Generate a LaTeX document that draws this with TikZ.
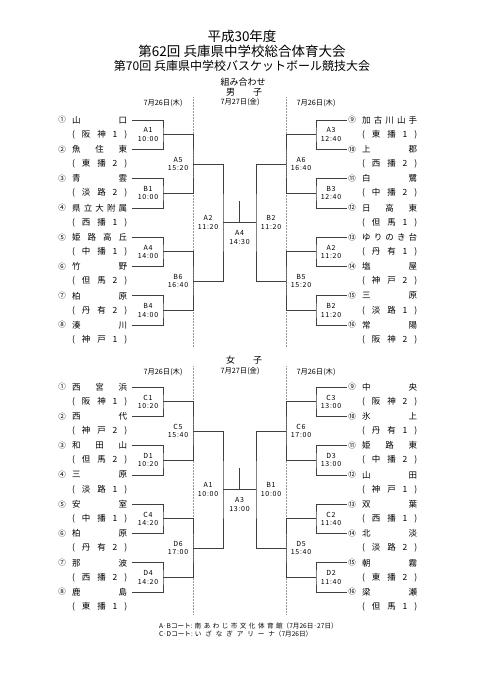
\documentclass[tikz,border=0pt]{standalone}
\usepackage{fontspec}
\setmainfont{Noto Sans CJK JP}
\newfontfamily\gamefont[LetterSpace=10]{Noto Sans CJK JP}

\tikzset{
  line/.style={draw=black!75, line width=0.75pt},
  guide/.style={draw=black!40, line width=0.75pt, dash pattern=on 0.75pt off 0.75pt},
  nrnode/.style={inner sep=1pt, font=\fontsize{7.5}{8}\selectfont},
  teamnode/.style={anchor=west, inner xsep=5pt, inner ysep=1pt, font=\fontsize{8.5}{10}\selectfont},
  gamenode/.style={align=center, inner sep=0pt, font=\gamefont\fontsize{7}{8.4}\selectfont},
  datenode/.style={inner sep=0pt, font=\fontsize{7.3}{8}\selectfont},
  titlenode/.style={inner sep=0pt, font=\fontsize{13.5}{15}\selectfont},
  headnode/.style={inner sep=0pt, font=\fontsize{9}{10}\selectfont},
  footnode/.style={anchor=west, inner sep=0pt, font=\fontsize{6.6}{7.5}\selectfont}
}

% #1 prefix, #2 y of first team, #3 left teams, #4 right teams
\newcommand\drawhalf[4]{%
  \foreach \nr/\nm/\cl [count=\i] in {#3} {
    \node[nrnode] (#1n\i) at (62,{#2+29.3*(\i-1)}) {\nr};
    \node[teamnode] (#1t\i) at (67,{#2+29.3*(\i-1)}) {\makebox[55pt][s]{\nm}};
    \node[teamnode] (#1c\i) at (67,{#2+29.3*(\i-0.5)}) {\makebox[55pt][s]{(\ \cl\ )}};
  }
  \foreach \nr/\nm/\cl [count=\i from 9] in {#4} {
    \node[nrnode] (#1n\i) at (352,{#2+29.3*(\i-9)}) {\nr};
    \node[teamnode] (#1t\i) at (357,{#2+29.3*(\i-9)}) {\makebox[55pt][s]{\nm}};
    \node[teamnode] (#1c\i) at (357,{#2+29.3*(\i-8.5)}) {\makebox[55pt][s]{(\ \cl\ )}};
  }
  \foreach \k in {1,...,4} {
    \pgfmathtruncatemacro\u{2*\k-1}
    \pgfmathtruncatemacro\v{2*\k}
    \pgfmathtruncatemacro\uu{2*\k+7}
    \pgfmathtruncatemacro\vv{2*\k+8}
    \coordinate (#1a\k) at (163,{#2+29.3*(2*\k-1.5)});
    \coordinate (#1e\k) at (316,{#2+29.3*(2*\k-1.5)});
    \draw[line] (#1t\u.east) -| (#1a\k) |- (#1t\v.east);
    \draw[line] (#1n\uu.west) -| (#1e\k) |- (#1n\vv.west);
  }
  \foreach \k in {1,2} {
    \pgfmathtruncatemacro\u{2*\k-1}
    \pgfmathtruncatemacro\v{2*\k}
    \coordinate (#1b\k) at (193,{#2+29.3*(4*\k-2.5)});
    \coordinate (#1d\k) at (286,{#2+29.3*(4*\k-2.5)});
    \draw[line] (#1a\u) -| (#1b\k) |- (#1a\v);
    \draw[line] (#1e\u) -| (#1d\k) |- (#1e\v);
  }
  \coordinate (#1sl) at (223,{#2+29.3*3.5});
  \coordinate (#1sr) at (256,{#2+29.3*3.5});
  \coordinate (#1f) at (239.5,{#2+29.3*3.5});
  \coordinate (#1ft) at (239.5,{#2+29.3*3.5-22});
  \draw[line] (#1b1) -| (#1sl) |- (#1b2);
  \draw[line] (#1d1) -| (#1sr) |- (#1d2);
  \draw[line] (#1sl) -- (#1sr);
  \draw[line] (#1f) -- (#1ft);
}

\begin{document}
\begin{tikzpicture}[x=1pt,y=-1pt]
  \path[use as bounding box, fill=white] (0,0) rectangle (481,680);

  \node[titlenode] (title1) at (242,36) {平成30年度};
  \node[titlenode] (title2) at (242,51) {第62回 兵庫県中学校総合体育大会};
  \node[titlenode, font=\fontsize{12}{15}\selectfont] (title3) at (242,66) {第70回 兵庫県中学校バスケットボール競技大会};
  \node[headnode] (kumi) at (243,82) {組み合わせ};
  \node[headnode] (boys) at (244,92) {\makebox[36pt][s]{男 子}};
  \node[headnode] (girls) at (244,360) {\makebox[36pt][s]{女 子}};

  \foreach \dy [count=\s] in {0,269} {
    \node[datenode] (day\s a) at (163,103+\dy) {7月26日(木)};
    \node[datenode] (day\s b) at (240,102+\dy) {7月27日(金)};
    \node[datenode] (day\s c) at (316,103+\dy) {7月26日(木)};
  }

  % dotted day borders
  \draw[guide] (193,97) -- (193,347);
  \draw[guide] (286,97) -- (286,347);
  \draw[guide] (193,366) -- (193,615);
  \draw[guide] (286,366) -- (286,615);

  % boys
  \drawhalf{m}{120}{①/山 口/阪 神 1,
    ②/魚 住 東/東 播 2,
    ③/青 雲/淡 路 2,
    ④/県 立 大 附 属/西 播 1,
    ⑤/姫 路 高 丘/中 播 1,
    ⑥/竹 野/但 馬 2,
    ⑦/柏 原/丹 有 2,
    ⑧/湊 川/神 戸 1}{⑨/加 古 川 山 手/東 播 1,
    ⑩/上 郡/西 播 2,
    ⑪/白 鷺/中 播 2,
    ⑫/日 高 東/但 馬 1,
    ⑬/ゆ り の き 台/丹 有 1,
    ⑭/塩 屋/神 戸 2,
    ⑮/三 原/淡 路 1,
    ⑯/常 陽/阪 神 2}
  \foreach \p/\g/\t in {a1/A1/10:00, a2/B1/10:00, a3/A4/14:00, a4/B4/14:00,
      b1/A5/15:20, b2/B6/16:40, sl/A2/11:20}
    \node[gamenode] (gm\p) at ([xshift=-15pt]m\p) {\g\\\t};
  \foreach \p/\g/\t in {e1/A3/12:40, e2/B3/12:40, e3/A2/11:20, e4/B2/11:20,
      d1/A6/16:40, d2/B5/15:20, sr/B2/11:20}
    \node[gamenode] (gm\p) at ([xshift=15pt]m\p) {\g\\\t};
  \node[gamenode] (gmf) at ([yshift=-15pt]mf) {A4\\14:30};

  % girls
  \drawhalf{w}{387}{①/西 宮 浜/阪 神 1,
    ②/西 代/神 戸 2,
    ③/和 田 山/但 馬 2,
    ④/三 原/淡 路 1,
    ⑤/安 室/中 播 1,
    ⑥/柏 原/丹 有 2,
    ⑦/那 波/西 播 2,
    ⑧/鹿 島/東 播 1}{⑨/中 央/阪 神 2,
    ⑩/氷 上/丹 有 1,
    ⑪/姫 路 東/中 播 2,
    ⑫/山 田/神 戸 1,
    ⑬/双 葉/西 播 1,
    ⑭/北 淡/淡 路 2,
    ⑮/朝 霧/東 播 2,
    ⑯/梁 瀬/但 馬 1}
  \foreach \p/\g/\t in {a1/C1/10:20, a2/D1/10:20, a3/C4/14:20, a4/D4/14:20,
      b1/C5/15:40, b2/D6/17:00, sl/A1/10:00}
    \node[gamenode] (gw\p) at ([xshift=-15pt]w\p) {\g\\\t};
  \foreach \p/\g/\t in {e1/C3/13:00, e2/D3/13:00, e3/C2/11:40, e4/D2/11:40,
      d1/C6/17:00, d2/D5/15:40, sr/B1/10:00}
    \node[gamenode] (gw\p) at ([xshift=15pt]w\p) {\g\\\t};
  \node[gamenode] (gwf) at ([yshift=-15pt]wf) {A3\\13:00};

  \node[footnode] (court1) at (159,625.5) {A·Bコート:\hspace{2pt}\makebox[88pt][s]{南 あ わ じ 市 文 化 体 育 館}（7月26日·27日）};
  \node[footnode] (court2) at (159,633.5) {C·Dコート:\hspace{2pt}\makebox[80pt][s]{い ざ な ぎ ア リ ー ナ}（7月26日）};
\end{tikzpicture}
\end{document}
